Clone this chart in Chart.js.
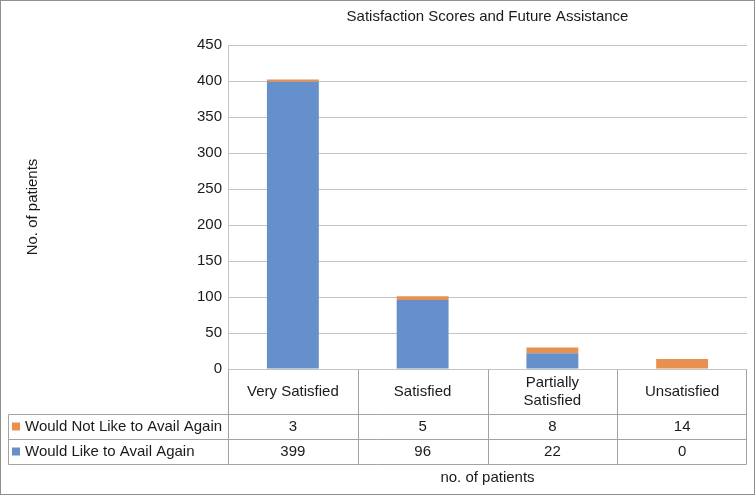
<!DOCTYPE html>
<html>
<head>
<meta charset="utf-8">
<script src="https://cdn.jsdelivr.net/npm/chart.js@4/dist/chart.umd.min.js"></script>
<style>
  html, body { margin: 0; padding: 0; background: #fff; }
  #wrap { width: 756px; height: 496px; }
</style>
</head>
<body>
<div id="wrap"><canvas id="c" width="756" height="496"></canvas></div>
<script>
const chartTitle = "Satisfaction Scores and Future Assistance";
const categories = ["Very Satisfied", "Satisfied", ["Partially", "Satisfied"], "Unsatisfied"];
const seriesNames = ["Would Like to Avail Again", "Would Not Like to Avail Again"];
const wouldLike = [399, 96, 22, 0];
const wouldNotLike = [3, 5, 8, 14];
const yTitle = "No. of patients";
const xTitle = "no. of patients";
const yTicks = { min: 0, max: 450, step: 50 };

const BLUE = "#6690CB";
const ORANGE = "#E8904F";
const FONT = "'Liberation Sans', Arial, sans-serif";
const FS = 15;

const tablePlugin = {
  id: "dataTable",
  afterDraw(chart) {
    const ctx = chart.ctx;
    const area = chart.chartArea;
    const xs = chart.scales.x;
    const n = categories.length;
    const colW = (area.right - area.left) / n;
    const top = area.bottom;
    const headerH = 45, rowH = 25;
    const r1 = top + headerH, r2 = r1 + rowH, r3 = r2 + rowH;
    const legLeft = 8.5;

    ctx.save();
    // outer border
    ctx.strokeStyle = "#8f8f8f";
    ctx.lineWidth = 1;
    ctx.strokeRect(0.5, 0.5, 754, 494);

    // title
    ctx.fillStyle = "#1a1a1a";
    ctx.font = FS + "px " + FONT;
    ctx.textAlign = "center";
    ctx.textBaseline = "middle";
    ctx.fillText(chartTitle, (area.left + area.right) / 2, 17);

    // table lines
    ctx.strokeStyle = "#a3a3a3";
    ctx.beginPath();
    const R = Math.round(area.right) - 0.5;
    [r1, r2, r3].forEach(y => { const yy = Math.round(y) + 0.5; ctx.moveTo(legLeft, yy); ctx.lineTo(R, yy); });
    ctx.moveTo(legLeft, Math.round(r1) + 0.5); ctx.lineTo(legLeft, Math.round(r3) + 0.5);
    for (let i = 0; i <= n; i++) {
      const x = i === n ? R : Math.round(area.left + i * colW) + 0.5;
      ctx.moveTo(x, Math.round(top) + 0.5); ctx.lineTo(x, Math.round(r3) + 0.5);
    }
    ctx.stroke();

    // header labels and values
    ctx.fillStyle = "#1a1a1a";
    for (let i = 0; i < n; i++) {
      const cx = xs.getPixelForValue(i);
      const lab = categories[i];
      const cy = top + headerH / 2;
      if (Array.isArray(lab)) {
        const lh = 18;
        lab.forEach((t, k) => ctx.fillText(t, cx, cy + (k - (lab.length - 1) / 2) * lh));
      } else {
        ctx.fillText(lab, cx, cy);
      }
      ctx.fillText(String(wouldNotLike[i]), cx, r1 + rowH / 2);
      ctx.fillText(String(wouldLike[i]), cx, r2 + rowH / 2);
    }

    // legend keys
    ctx.textAlign = "left";
    ctx.fillStyle = ORANGE;
    ctx.fillRect(12, r1 + rowH / 2 - 4, 8, 8);
    ctx.fillStyle = BLUE;
    ctx.fillRect(12, r2 + rowH / 2 - 4, 8, 8);
    ctx.fillStyle = "#1a1a1a";
    ctx.fillText(seriesNames[1], 25, r1 + rowH / 2);
    ctx.fillText(seriesNames[0], 25, r2 + rowH / 2);

    // x title
    ctx.textAlign = "center";
    ctx.fillText(xTitle, (area.left + area.right) / 2, 478);
    ctx.restore();
  }
};

new Chart(document.getElementById("c"), {
  type: "bar",
  data: {
    labels: categories.map(c => Array.isArray(c) ? c.join(" ") : c),
    datasets: [
      { label: seriesNames[0], data: wouldLike, backgroundColor: BLUE, barPercentage: 0.4, categoryPercentage: 1 },
      { label: seriesNames[1], data: wouldNotLike, backgroundColor: ORANGE, barPercentage: 0.4, categoryPercentage: 1 }
    ]
  },
  options: {
    responsive: false,
    animation: false,
    devicePixelRatio: 1,
    layout: { padding: { left: 0, right: 9, top: 45, bottom: 127 } },
    plugins: { legend: { display: false }, title: { display: false }, tooltip: { enabled: false } },
    scales: {
      x: { stacked: true, display: false },
      y: {
        stacked: true,
        min: yTicks.min, max: yTicks.max,
        afterFit(scale) { scale.width = 228; },
        ticks: { stepSize: yTicks.step, color: "#1a1a1a", font: { size: FS, family: FONT }, padding: 6 },
        grid: { color: "#c4c4c4", drawTicks: false },
        border: { color: "#c4c4c4" },
        title: { display: true, text: yTitle, color: "#1a1a1a", font: { size: FS, family: FONT }, padding: { top: 24, bottom: 0 } }
      }
    }
  },
  plugins: [tablePlugin]
});
</script>
</body>
</html>
